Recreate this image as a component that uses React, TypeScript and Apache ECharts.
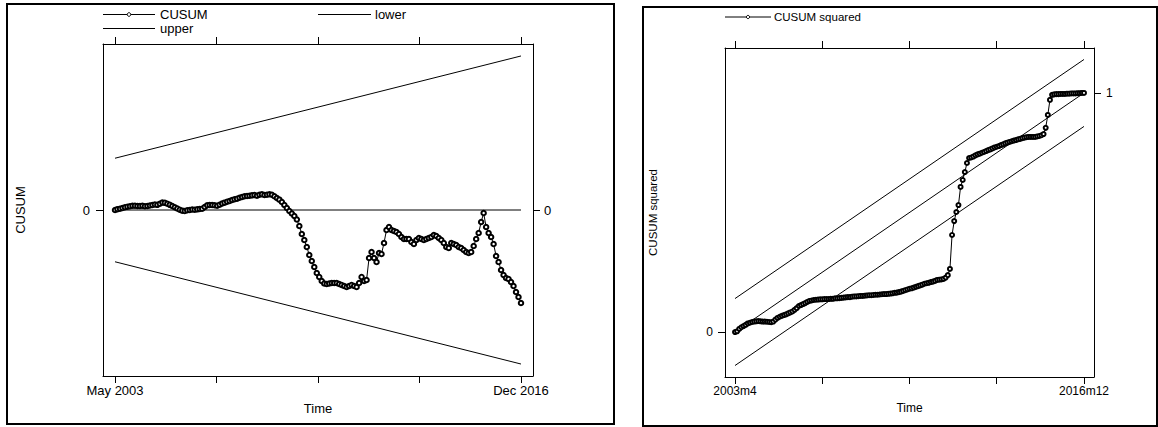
import React, { useEffect, useRef } from "react";
import * as echarts from "echarts";

const FONT = "'Liberation Sans', Arial, Helvetica, sans-serif";

// Left panel: recursive CUSUM, May 2003 .. Dec 2016 (164 months)
const cusumXLabels = ["May 2003", "Dec 2016"];
const cusum = [
  0, 0.19, 0.30, 0.47, 0.65, 0.77, 0.89, 1.00, 1.00, 0.93,
  0.93, 1.00, 0.89, 0.93, 1.05, 1.17, 1.29, 1.21, 1.45, 1.75,
  1.68, 1.47, 1.21, 0.93, 0.65, 0.35, 0.07, -0.16, -0.23, -0.07,
  0, 0.12, 0.07, 0.16, 0.23, 0.30, 0.70, 1.10, 1.17, 1.17,
  1.10, 1.00, 1.24, 1.52, 1.71, 1.94, 2.10, 2.34, 2.50, 2.64,
  2.87, 3.04, 3.20, 3.27, 3.34, 3.43, 3.50, 3.34, 3.57, 3.67,
  3.50, 3.57, 3.67, 3.57, 3.20, 2.80, 2.41, 1.87, 1.17, 0.47,
  -0.23, -0.82, -1.40, -2.22, -3.74, -5.61, -7.01, -8.64, -10.51, -11.92,
  -13.32, -14.72, -15.65, -16.59, -17.17, -17.29, -17.17, -17.06, -17.06, -17.06,
  -17.29, -17.52, -17.76, -17.99, -17.76, -17.52, -17.76, -17.99, -17.06, -15.65,
  -16.59, -16.36, -11.21, -9.81, -11.21, -12.15, -10.05, -10.28, -7.71, -4.67,
  -3.97, -4.67, -4.91, -5.14, -5.61, -6.31, -6.78, -6.78, -6.78, -7.48,
  -7.94, -7.01, -6.54, -6.78, -7.01, -6.78, -6.54, -6.31, -5.84, -6.07,
  -6.54, -7.01, -7.71, -8.64, -8.88, -7.71, -7.94, -8.18, -8.64, -8.88,
  -9.35, -9.81, -10.05, -9.81, -8.41, -6.78, -5.37, -2.80, -0.70, -3.97,
  -5.37, -6.31, -7.94, -10.75, -12.15, -14.02, -15.19, -15.89, -16.12, -16.82,
  -17.76, -19.16, -20.33, -21.73,
];
// bound values at the first and last observation
const cusumUpper = [12.1, 36.0];
const cusumLower = [-12.1, -36.0];

// Right panel: CUSUM of squares, 2003m4 .. 2016m12 (165 months)
const sqXLabels = ["2003m4", "2016m12"];
const cusumSq = [
  0, 0.003, 0.013, 0.020, 0.025, 0.030, 0.036, 0.039, 0.042, 0.044,
  0.045, 0.046, 0.045, 0.044, 0.044, 0.043, 0.042, 0.041, 0.044, 0.052,
  0.059, 0.064, 0.068, 0.071, 0.074, 0.078, 0.082, 0.086, 0.093, 0.100,
  0.109, 0.113, 0.117, 0.121, 0.126, 0.130, 0.132, 0.134, 0.135, 0.136,
  0.137, 0.137, 0.138, 0.138, 0.138, 0.139, 0.139, 0.141, 0.141, 0.142,
  0.143, 0.144, 0.145, 0.146, 0.146, 0.148, 0.149, 0.149, 0.150, 0.151,
  0.151, 0.152, 0.153, 0.154, 0.154, 0.155, 0.156, 0.156, 0.157, 0.158,
  0.159, 0.159, 0.160, 0.161, 0.162, 0.164, 0.165, 0.167, 0.169, 0.172,
  0.175, 0.178, 0.181, 0.183, 0.186, 0.189, 0.192, 0.195, 0.198, 0.202,
  0.204, 0.206, 0.209, 0.211, 0.214, 0.218, 0.219, 0.220, 0.222, 0.228,
  0.238, 0.264, 0.406, 0.464, 0.502, 0.531, 0.607, 0.636, 0.669, 0.707,
  0.728, 0.730, 0.734, 0.739, 0.743, 0.746, 0.750, 0.753, 0.757, 0.761,
  0.764, 0.768, 0.772, 0.775, 0.778, 0.782, 0.785, 0.789, 0.792, 0.795,
  0.798, 0.801, 0.803, 0.806, 0.808, 0.811, 0.813, 0.815, 0.816, 0.816,
  0.816, 0.816, 0.818, 0.820, 0.823, 0.828, 0.854, 0.908, 0.971, 0.992,
  0.994, 0.995, 0.995, 0.996, 0.996, 0.996, 0.997, 0.997, 0.998, 0.998,
  0.998, 0.999, 0.999, 1.000, 1.000,
];
const sqExpected = [0, 1];
const sqUpper = [0.14, 1.14];
const sqLower = [-0.14, 0.86];

export default function App() {
  const ref = useRef<HTMLDivElement>(null);

  useEffect(() => {
    if (!ref.current) return;
    const chart = echarts.init(ref.current, null, { renderer: "svg" });

    const nL = cusum.length - 1; // 163
    const nR = cusumSq.length - 1; // 164
    const ticksL = [0, 1, 2, 3, 4].map((k) => (nL * k) / 4);
    const ticksR = [0, 1, 2, 3, 4].map((k) => (nR * k) / 4);
    const padL = 4.82;
    const padR = 4.7;

    const axisLine = { show: true, onZero: false, lineStyle: { color: "#000", width: 1 } };
    const tickStyle = { color: "#000", width: 1 };
    const lbl = (size: number) => ({ color: "#000", fontSize: size, fontFamily: FONT });

    const xAxis = (
      gridIndex: number,
      n: number,
      pad: number,
      ticks: number[],
      position: string,
      labels: string[] | null,
      size: number
    ): any => ({
      type: "value",
      gridIndex,
      position,
      min: -pad,
      max: n + pad,
      axisLine,
      axisTick: { show: true, length: 7, customValues: ticks, lineStyle: tickStyle },
      axisLabel: labels
        ? {
            show: true,
            customValues: [0, n],
            margin: 8,
            formatter: (v: number) => (v === 0 ? labels[0] : labels[1]),
            ...lbl(size),
          }
        : { show: false },
      splitLine: { show: false },
      name: labels && position === "bottom" ? "Time" : "",
      nameLocation: "middle",
      nameGap: 21,
      nameTextStyle: lbl(size),
    });

    const yAxis = (
      gridIndex: number,
      min: number,
      max: number,
      position: string,
      tick: number,
      name: string,
      nameGap: number,
      size: number,
      margin: number
    ): any => ({
      type: "value",
      gridIndex,
      position,
      min,
      max,
      axisLine,
      axisTick: { show: true, length: 7, customValues: [tick], lineStyle: tickStyle },
      axisLabel: { show: true, customValues: [tick], margin, ...lbl(size) },
      splitLine: { show: false },
      name,
      nameLocation: "middle",
      nameGap,
      nameTextStyle: lbl(size === 13 ? 13 : 11.5),
    });

    const plain = (name: string, data: number[][], xi: number, yi: number): any => ({
      name,
      type: "line",
      xAxisIndex: xi,
      yAxisIndex: yi,
      data,
      symbol: "none",
      lineStyle: { color: "#000", width: 1 },
      silent: true,
      z: 2,
    });

    const option: any = {
      animation: false,
      backgroundColor: "#fff",
      textStyle: { fontFamily: FONT },
      grid: [
        { left: 103, top: 44, width: 430, height: 332 },
        { left: 725, top: 48, width: 369, height: 329 },
      ],
      xAxis: [
        xAxis(0, nL, padL, ticksL, "bottom", cusumXLabels, 13),
        xAxis(0, nL, padL, ticksL, "top", null, 13),
        xAxis(1, nR, padR, ticksR, "bottom", sqXLabels, 12),
        xAxis(1, nR, padR, ticksR, "top", null, 12),
      ],
      yAxis: [
        yAxis(0, -38.8, 38.8, "left", 0, "CUSUM", 76, 13, 13),
        yAxis(0, -38.8, 38.8, "right", 0, "", 0, 13, 11),
        yAxis(1, -0.188, 1.188, "left", 0, "CUSUM squared", 66, 12, 12),
        yAxis(1, -0.188, 1.188, "right", 1, "", 0, 12, 12),
      ],
      series: [
        plain("zero", [[0, 0], [nL, 0]], 0, 0),
        plain("upper", [[0, cusumUpper[0]], [nL, cusumUpper[1]]], 0, 0),
        plain("lower", [[0, cusumLower[0]], [nL, cusumLower[1]]], 0, 0),
        {
          name: "CUSUM",
          type: "line",
          xAxisIndex: 0,
          yAxisIndex: 0,
          data: cusum.map((v, i) => [i, v]),
          symbol: "emptyCircle",
          symbolSize: 4.5,
          lineStyle: { color: "#000", width: 1 },
          itemStyle: { color: "#000", borderColor: "#000", borderWidth: 1 },
          silent: true,
          z: 3,
        },
        plain("expected", [[0, sqExpected[0]], [nR, sqExpected[1]]], 2, 2),
        plain("sqUpper", [[0, sqUpper[0]], [nR, sqUpper[1]]], 2, 2),
        plain("sqLower", [[0, sqLower[0]], [nR, sqLower[1]]], 2, 2),
        {
          name: "CUSUM squared",
          type: "line",
          xAxisIndex: 2,
          yAxisIndex: 2,
          data: cusumSq.map((v, i) => [i, v]),
          symbol: "emptyCircle",
          symbolSize: 4,
          lineStyle: { color: "#000", width: 1 },
          itemStyle: { color: "#000", borderColor: "#000", borderWidth: 1 },
          silent: true,
          z: 3,
        },
      ],
      graphic: [
        // panel frames
        { type: "rect", shape: { x: 7, y: 4, width: 607, height: 420 }, style: { fill: "none", stroke: "#000", lineWidth: 2 }, silent: true },
        { type: "rect", shape: { x: 643, y: 7, width: 514, height: 419 }, style: { fill: "none", stroke: "#000", lineWidth: 2 }, silent: true },
        // left legend
        { type: "line", shape: { x1: 103, y1: 14.5, x2: 155, y2: 14.5 }, style: { stroke: "#000", lineWidth: 1 } },
        { type: "circle", shape: { cx: 129, cy: 14.5, r: 1.8 }, style: { fill: "#fff", stroke: "#000", lineWidth: 1 } },
        { type: "text", x: 160, y: 14.5, style: { text: "CUSUM", fill: "#000", font: `13px ${FONT}`, verticalAlign: "middle" } },
        { type: "line", shape: { x1: 318, y1: 14.5, x2: 371, y2: 14.5 }, style: { stroke: "#000", lineWidth: 1 } },
        { type: "text", x: 375, y: 14.5, style: { text: "lower", fill: "#000", font: `13px ${FONT}`, verticalAlign: "middle" } },
        { type: "line", shape: { x1: 103, y1: 28.5, x2: 155, y2: 28.5 }, style: { stroke: "#000", lineWidth: 1 } },
        { type: "text", x: 160, y: 28.5, style: { text: "upper", fill: "#000", font: `13px ${FONT}`, verticalAlign: "middle" } },
        // right legend
        { type: "line", shape: { x1: 725, y1: 17, x2: 771, y2: 17 }, style: { stroke: "#000", lineWidth: 1 } },
        { type: "circle", shape: { cx: 748, cy: 17, r: 1.6 }, style: { fill: "#fff", stroke: "#000", lineWidth: 1 } },
        { type: "text", x: 774, y: 17, style: { text: "CUSUM squared", fill: "#000", font: `11.5px ${FONT}`, verticalAlign: "middle" } },
      ],
    };

    chart.setOption(option);
    return () => chart.dispose();
  }, []);

  return (
    <div
      ref={ref}
      style={{ position: "absolute", left: 0, top: 0, width: 1158, height: 427, background: "#fff" }}
    />
  );
}
